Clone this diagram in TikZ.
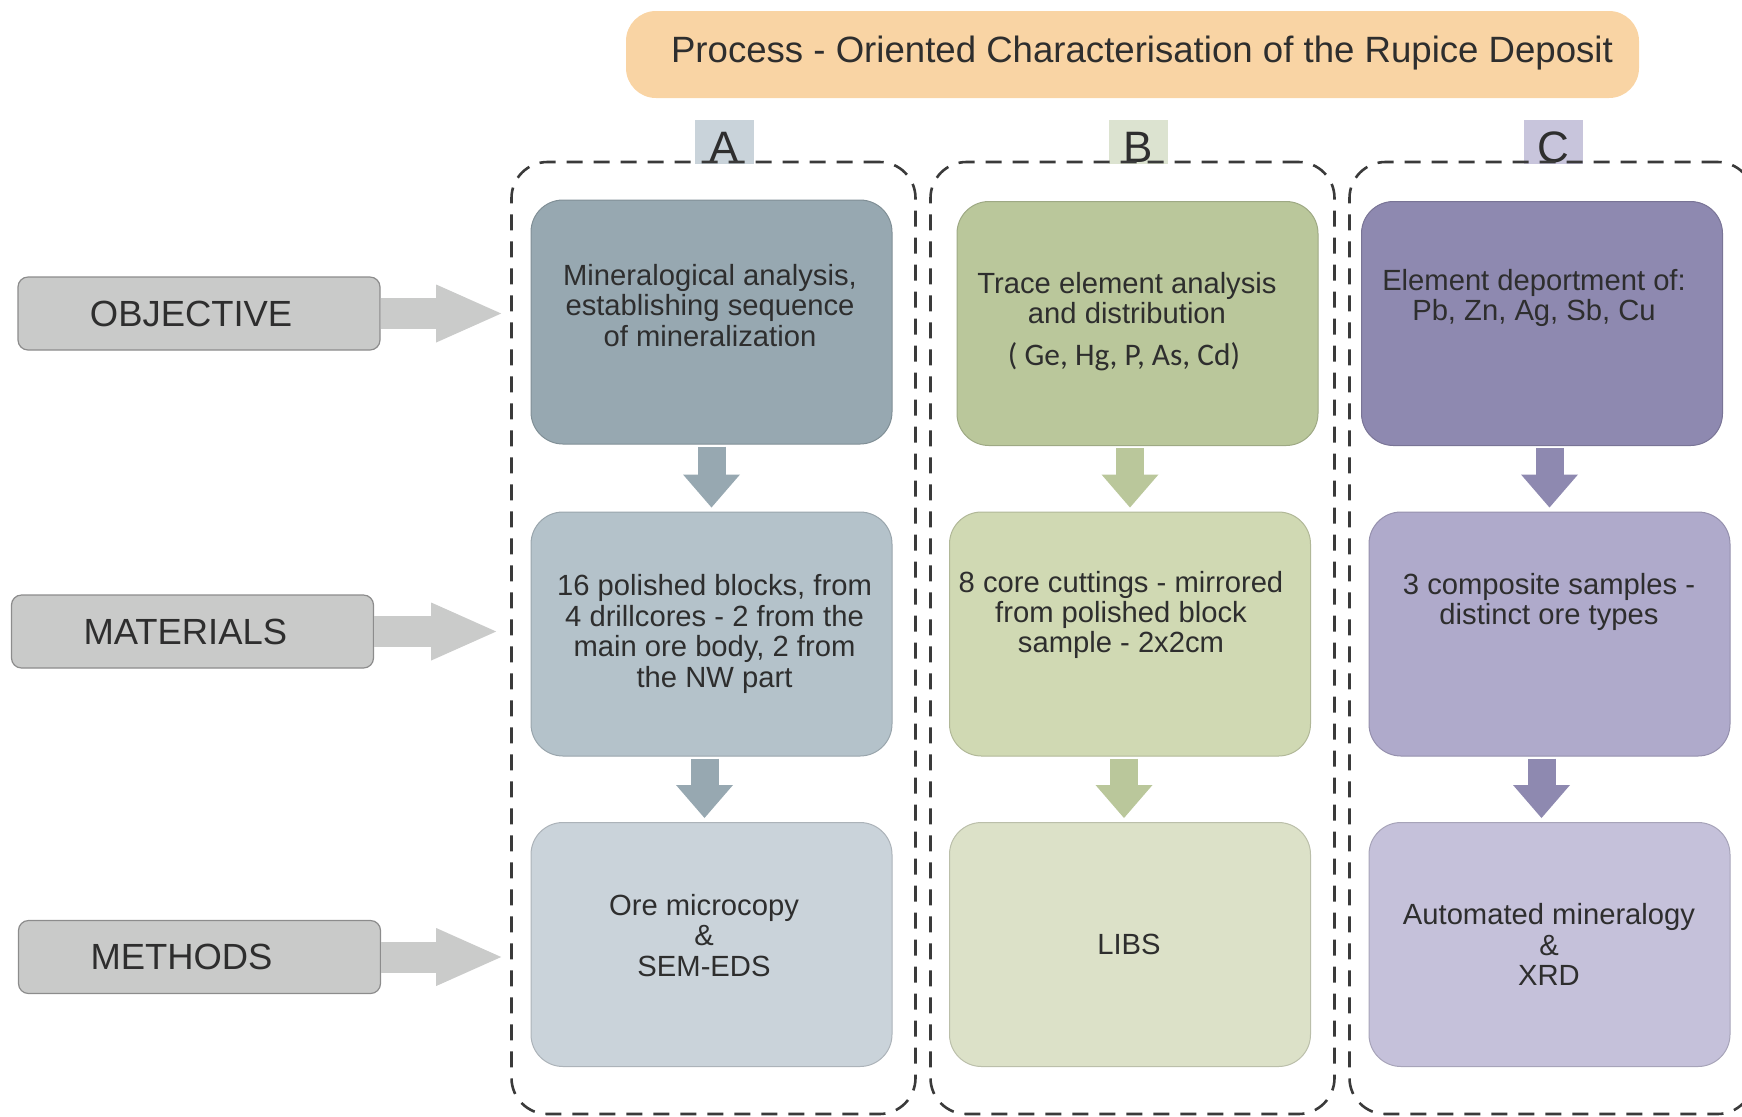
\documentclass[tikz,border=0pt]{standalone}
\usepackage{fontspec}
\setmainfont{Liberation Sans}
\newfontfamily\calibfont{Carlito}
\usetikzlibrary{arrows.meta}

\definecolor{ink}{HTML}{2E2E2E}
\definecolor{titleorange}{HTML}{F9D4A4}
\definecolor{tabA}{HTML}{C9D3DA}
\definecolor{tabB}{HTML}{DCE3D0}
\definecolor{tabC}{HTML}{C8C5DC}
\definecolor{colAa}{HTML}{97A8B1}
\definecolor{colAb}{HTML}{B4C2CA}
\definecolor{colAc}{HTML}{CAD3DA}
\definecolor{colBa}{HTML}{BAC79B}
\definecolor{colBb}{HTML}{D0D9B3}
\definecolor{colBc}{HTML}{DCE1C8}
\definecolor{colCa}{HTML}{8E89B0}
\definecolor{colCb}{HTML}{AFAACB}
\definecolor{colCc}{HTML}{C5C1DA}
\definecolor{rowgray}{HTML}{C9CAC9}
\definecolor{rowborder}{HTML}{8C8C8C}
\definecolor{rowarrow}{HTML}{CACBCA}
\definecolor{dashgray}{HTML}{3A3A3A}

\begin{document}
\begin{tikzpicture}[x=0.5pt, y=-0.5pt,
  every node/.style={text=ink},
  txt/.style={align=center, font=\fontsize{14.6}{15.2}\selectfont},
  box/.style={draw=#1!85!black, fill=#1, rounded corners=16pt, line width=0.5pt,
    minimum width=180.5pt, minimum height=122pt},
  group/.style={draw=dashgray, line width=1.3pt, dash pattern=on 8pt off 5.5pt,
    rounded corners=18pt, minimum width=202pt, minimum height=476pt},
  tab/.style={fill=#1, minimum width=29.5pt, minimum height=22pt, inner sep=0pt},
  letter/.style={anchor=base, font=\fontsize{22}{24}\selectfont},
  rowlabel/.style={draw=rowborder, fill=rowgray, rounded corners=5pt, line width=0.6pt,
    minimum height=36.5pt, text width=109pt, inner xsep=36pt, align=left,
    font=\fontsize{18.2}{20}\selectfont},
  downarr/.style={draw=#1, line width=14pt,
    -{Triangle[width=28.5pt, length=16.5pt, line width=0pt]},
    shorten <=1pt, shorten >=2pt},
  rowarr/.style={draw=rowarrow, line width=15.5pt,
    -{Triangle[width=29pt, length=32.5pt, line width=0pt]}}
]
\useasboundingbox (0,0) rectangle (1742,1116);

% title
\node[fill=titleorange, rounded corners=15pt, minimum width=506.5pt, minimum height=43.5pt] (title) at (1132.5,54.5) {};
\node[font=\fontsize{18.3}{20}\selectfont] (titletext) at (1142,53) {Process - Oriented Characterisation of the Rupice Deposit};

% column tabs
\node[tab=tabA] (tA) at (724.5,142) {};
\node[tab=tabB] (tB) at (1138,142) {};
\node[tab=tabC] (tC) at (1553,142) {};
\node[letter] (lA) at ([yshift=1pt]tA.south) {A};
\node[letter] (lB) at ([yshift=1pt]tB.south) {B};
\node[letter] (lC) at ([yshift=1pt]tC.south) {C};

% dashed groups
\node[group] (gA) at (713.5,638) {};
\node[group] (gB) at (1132.5,638) {};
\node[group] (gC) at (1551.5,638) {};

% boxes
\node[box=colAa] (a1) at (711.5,322) {};
\node[box=colAb] (a2) at (711.5,634) {};
\node[box=colAc] (a3) at (711.5,944.5) {};
\node[box=colBa] (b1) at (1137.5,323.5) {};
\node[box=colBb] (b2) at (1130,634) {};
\node[box=colBc] (b3) at (1130,944.5) {};
\node[box=colCa] (c1) at (1542,323.5) {};
\node[box=colCb] (c2) at (1549.5,634) {};
\node[box=colCc] (c3) at (1549.5,944.5) {};

% arrows between boxes
\draw[downarr=colAa] (a1.south -| a2.north) -- (a2.north);
\draw[downarr=colAa] ([xshift=-3.5pt]a2.south) -- ([xshift=-3.5pt]a3.north);
\draw[downarr=colBa] (b1.south -| b2.north) -- (b2.north);
\draw[downarr=colBa] ([xshift=-3pt]b2.south) -- ([xshift=-3pt]b3.north);
\draw[downarr=colCa] (c1.south -| c2.north) -- (c2.north);
\draw[downarr=colCa] ([xshift=-4pt]c2.south) -- ([xshift=-4pt]c3.north);

% box texts
\node[txt] (a1t) at (710,305.5) {Mineralogical analysis,\\establishing sequence\\of mineralization};
\node[txt] (a2t) at (714.5,634) {16 polished blocks, from\\4 drillcores - 2 from the\\main ore body, 2 from\\the NW part};
\node[txt] (a3t) at (704,935.5) {Ore microcopy\\\&\\SEM-EDS};
\node[txt] (b1t) at (1127,298) {Trace element analysis\\and distribution};
\node[font=\calibfont\fontsize{15.7}{17}\selectfont] (b1g) at (1124,357) {( Ge, Hg, P, As, Cd)};
\node[txt] (b2t) at (1121,615) {8 core cuttings - mirrored\\from polished block\\sample - 2x2cm};
\node[txt] (b3t) at (1129,944) {LIBS};
\node[txt] (c1t) at (1534,298) {Element deportment of:\\Pb, Zn, Ag, Sb, Cu};
\node[txt] (c2t) at (1549,602) {3 composite samples -\\distinct ore types};
\node[txt] (c3t) at (1549,944.5) {Automated mineralogy\\\&\\XRD};

% row labels
\node[rowlabel] (obj) at (199,313.5) {OBJECTIVE};
\node[rowlabel] (mat) at (192.5,631.5) {MATERIALS};
\node[rowlabel] (meth) at (199.5,957) {METHODS};
\draw[rowarr, shorten >=4.5pt] (obj.east) -- (obj.east -| gA.west);
\draw[rowarr, shorten >=7pt] (mat.east) -- (mat.east -| gA.west);
\draw[rowarr, shorten >=4.5pt] (meth.east) -- (meth.east -| gA.west);

\end{tikzpicture}
\end{document}
